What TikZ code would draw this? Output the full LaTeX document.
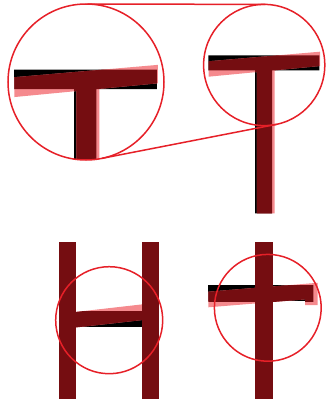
\documentclass[tikz,border=0pt]{standalone}
\definecolor{overlapc}{RGB}{117,13,17}
\definecolor{pinkc}{RGB}{245,138,142}
\definecolor{lensc}{RGB}{230,32,40}
\tikzset{
  lens/.style={circle, draw=lensc, line width=1.5pt, inner sep=0pt, outer sep=0pt},
  lensline/.style={draw=lensc, line width=1.5pt},
}
\newcommand\pathTblack{(208.3,55.3) -- (319.3,55.3) -- (319.3,70.5) -- (272.2,70.5) -- (272.2,213.3) -- (255,213.3) -- (255,70.5) -- (208.3,70.5) -- cycle}
\newcommand\pathTpink{(208.5,61.3) -- (320,51.7) -- (320,66) -- (274.5,70.36) -- (274.5,213.3) -- (256.8,213.3) -- (256.8,72.06) -- (208.5,76.7) -- cycle}
\newcommand\drawTshape{%
  \fill[black] \pathTblack;
  \fill[pinkc] \pathTpink;
  \begin{scope}
    \clip \pathTblack;
    \fill[overlapc] \pathTpink;
  \end{scope}}
\begin{document}
\begin{tikzpicture}[x=1pt,y=-1pt]
\useasboundingbox (0,0) rectangle (326,401);
% small T
\drawTshape
% magnified T
\begin{scope}
  \clip (86,82) circle[radius=78pt];
  \begin{scope}[shift={(86,82)}, scale=1.287, shift={(-264.2,-65)}]
    \drawTshape
  \end{scope}
\end{scope}
% H
\fill[black] (70,311.8) rectangle (148,327.3);
\fill[pinkc] (70,312.6) -- (148,303.7) -- (148,319.4) -- (70,328.1) -- cycle;
\begin{scope}
  \clip (70,311.8) rectangle (148,327.3);
  \fill[overlapc] (70,312.6) -- (148,303.7) -- (148,319.4) -- (70,328.1) -- cycle;
\end{scope}
\fill[overlapc] (59,241.7) rectangle (76,399.3);
\fill[overlapc] (142.3,241.7) rectangle (159,399.3);
% cross
\fill[black] (208.3,285) rectangle (313.3,301);
\fill[pinkc] (208.3,291.7) -- (317.7,282.8) -- (317.7,305) -- (305,305) -- (305,299.4) -- (208.3,307.3) -- cycle;
\begin{scope}
  \clip (208.3,285) rectangle (313.3,301);
  \fill[overlapc] (208.3,291.7) -- (317.7,282.8) -- (317.7,305) -- (305,305) -- (305,299.4) -- (208.3,307.3) -- cycle;
\end{scope}
\fill[overlapc] (255,241.7) rectangle (272.7,399.3);
% lenses
\node[lens, minimum size=156pt] (big) at (86,82) {};
\node[lens, minimum size=121.2pt] (small) at (264.2,65) {};
\node[lens, minimum size=107pt] (hlens) at (109.2,320.2) {};
\node[lens, minimum size=106.8pt] (xlens) at (267.8,307.8) {};
\draw[lensline] (big.89.87) -- (small.89.87);
\draw[lensline] (big.-78.97) -- (small.-78.97);
\end{tikzpicture}
\end{document}
